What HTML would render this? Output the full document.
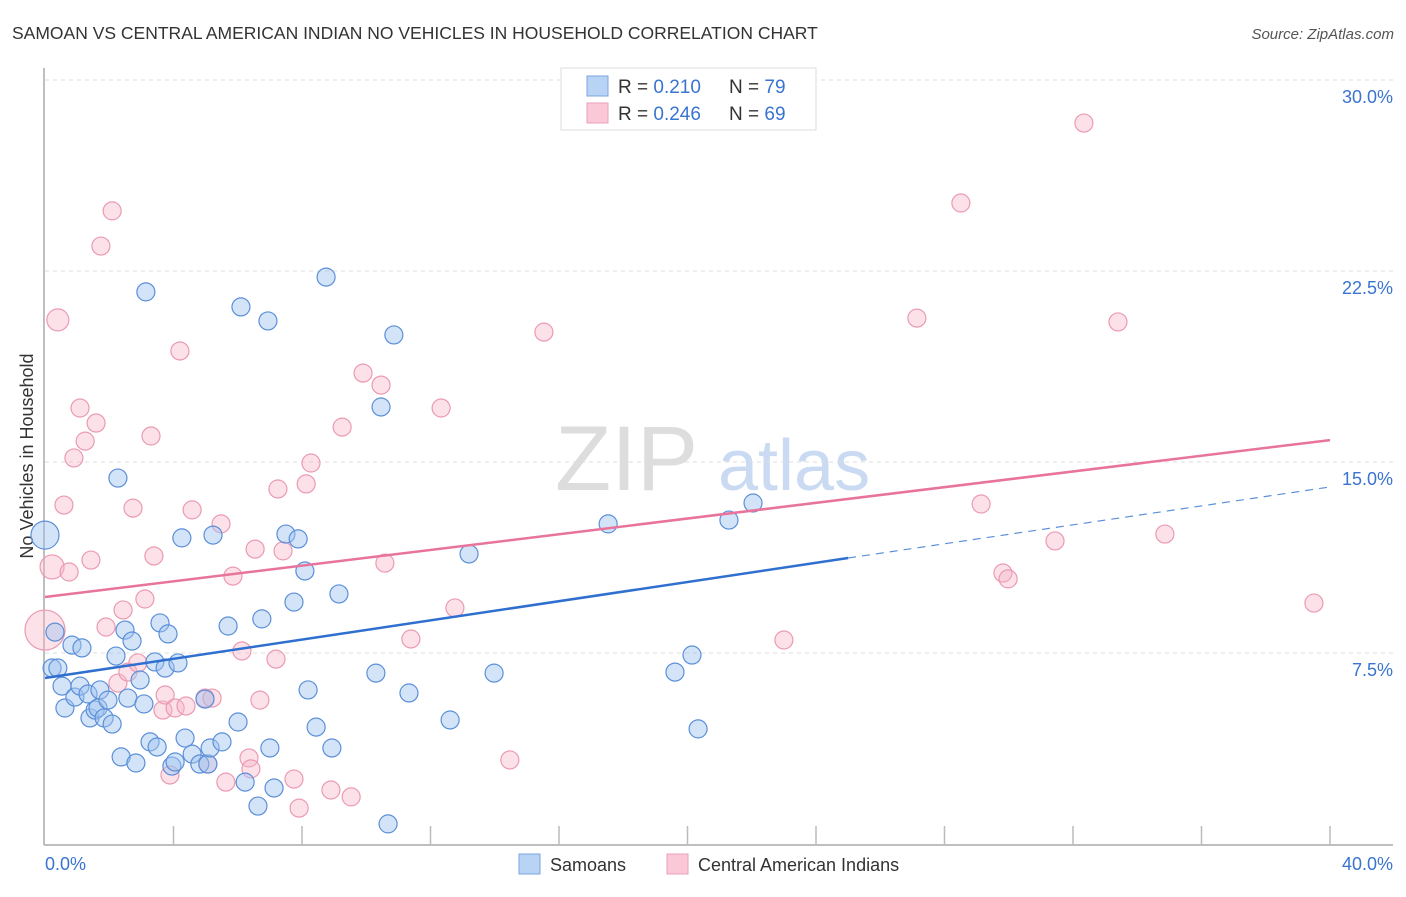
<!DOCTYPE html>
<html><head><meta charset="utf-8"><style>
body{margin:0;background:#fff;}
svg text{font-family:"Liberation Sans",sans-serif;}
</style></head><body>
<svg id="chart" width="1406" height="892" viewBox="0 0 1406 892" xmlns="http://www.w3.org/2000/svg">
<text x="12" y="39" font-size="17.5" fill="#333">SAMOAN VS CENTRAL AMERICAN INDIAN NO VEHICLES IN HOUSEHOLD CORRELATION CHART</text>
<text x="1394" y="39" font-size="15" fill="#555" font-style="italic" text-anchor="end">Source: ZipAtlas.com</text>
<text transform="translate(33,456) rotate(-90)" font-size="18" fill="#333" text-anchor="middle">No Vehicles in Household</text>
<g>
<text x="555" y="490" font-size="92" fill="#ddd" font-family="Liberation Serif,serif">ZIP</text>
<text x="718" y="490" font-size="72" fill="#c9daf2">atlas</text>
</g>
<g id="grid"></g>
<g id="axes"></g>
<g id="pts"></g>
<g id="lines"></g>
<g>
<rect x="561" y="68" width="255" height="62" fill="#fff" stroke="#ddd"/>
<rect x="587" y="76" width="21" height="20" fill="#b9d3f5" stroke="#7aa6e0"/>
<rect x="587" y="103" width="21" height="20" fill="#fac8d6" stroke="#eaa0b8"/>
<text x="618" y="93" font-size="19" fill="#333">R = <tspan fill="#3a74d0">0.210</tspan></text>
<text x="729" y="93" font-size="19" fill="#333">N = <tspan fill="#3a74d0">79</tspan></text>
<text x="618" y="120" font-size="19" fill="#333">R = <tspan fill="#3a74d0">0.246</tspan></text>
<text x="729" y="120" font-size="19" fill="#333">N = <tspan fill="#3a74d0">69</tspan></text>
</g>
<g>
<rect x="519" y="854" width="21" height="20" fill="#b9d3f5" stroke="#7aa6e0"/>
<text x="550" y="871" font-size="18" fill="#333">Samoans</text>
<rect x="667" y="854" width="21" height="20" fill="#fac8d6" stroke="#eaa0b8"/>
<text x="698" y="871" font-size="18" fill="#333">Central American Indians</text>
</g>
</svg>
<script>
const blueX=[0.0,0.31,0.22,0.40,0.53,0.62,0.84,0.93,1.09,1.15,1.34,1.40,1.56,1.65,1.71,1.84,1.96,2.09,2.21,2.27,2.37,2.49,2.58,2.71,2.83,2.96,3.08,3.14,3.27,3.42,3.49,3.58,3.74,3.83,3.95,4.05,4.14,4.26,4.36,4.58,4.82,4.98,5.07,5.14,5.23,5.51,5.70,6.01,6.10,6.23,6.63,6.75,6.94,7.00,7.13,7.50,7.75,7.88,8.09,8.19,8.44,8.75,8.93,9.15,10.30,10.46,10.68,10.86,11.33,12.61,13.20,13.98,17.53,19.61,20.14,20.33,21.29,22.04];
const blueY=[12.13,8.32,6.91,6.91,6.20,5.34,7.81,5.77,6.20,7.70,5.89,4.95,5.26,5.34,6.05,4.95,5.65,4.71,7.38,14.37,3.42,8.40,5.73,7.97,3.18,6.44,5.50,21.68,4.01,7.15,3.81,8.68,6.91,8.25,3.06,3.22,7.11,12.02,4.16,3.53,3.14,5.69,3.14,3.77,12.13,4.01,8.56,4.79,21.09,2.43,1.49,8.84,20.54,3.77,2.20,12.17,9.50,11.98,10.72,6.05,4.59,22.26,3.77,9.82,6.71,17.16,0.79,19.99,5.93,4.87,11.39,6.71,12.57,6.75,7.42,4.52,12.72,13.39];
const pinkX=[0.0,0.22,0.40,0.59,0.75,0.90,1.09,1.25,1.43,1.59,1.74,1.90,2.09,2.27,2.43,2.58,2.74,2.89,3.11,3.30,3.39,3.67,3.74,3.89,4.05,4.20,4.39,4.58,4.98,5.20,5.07,5.48,5.63,5.85,6.13,6.35,6.41,6.54,6.69,7.19,7.25,7.41,7.75,7.91,8.13,8.28,8.90,9.25,9.53,9.90,10.46,10.58,11.39,12.33,12.76,14.47,15.53,23.00,27.14,28.51,29.14,29.82,29.98,31.44,32.34,33.40,34.86,39.50];
const pinkY=[8.40,10.88,20.58,13.31,10.68,15.16,17.12,15.82,11.15,16.53,23.48,8.52,24.86,6.32,9.19,6.75,13.19,7.11,9.62,16.02,11.31,5.26,5.85,2.71,5.34,19.36,5.42,13.12,5.73,5.73,3.14,12.57,2.43,10.52,7.58,3.38,2.95,11.58,5.65,7.26,13.94,11.51,2.55,1.41,14.14,14.96,2.12,16.37,1.85,18.49,18.02,11.03,8.05,17.12,9.27,3.30,20.10,8.01,20.65,25.17,13.35,10.64,10.41,11.90,28.31,20.50,12.17,9.46];
const blueR=[14];const pinkR=[20,12,11];
const yTicks=[7.5,15,22.5,30];
const yTickLabels=["7.5%","15.0%","22.5%","30.0%"];
const blueLine=[6.52,11.23,14.02]; // at x=0, 25, 40
const pinkLine=[9.70,15.86]; // at x=0, 40
const NS="http://www.w3.org/2000/svg";
const X=v=>45+v/40*1285, Y=v=>844-v/7.5*191;
function mk(t,a,p){const e=document.createElementNS(NS,t);for(const k in a)e.setAttribute(k,a[k]);p.appendChild(e);return e;}
const grid=document.getElementById('grid'),axes=document.getElementById('axes');
yTicks.forEach((t,i)=>{
 const g=mk('line',{x1:45,x2:1393,y1:Y(t),y2:Y(t),stroke:'#ddd','stroke-dasharray':'4,4'},grid);
 
 
 const l=mk('text',{x:1393,y:Y(t)+23,'font-size':18,fill:'#3a74d0','text-anchor':'end'},axes);
 l.textContent=yTickLabels[i];
 
 
});
mk('line',{x1:44,x2:44,y1:68,y2:845,stroke:'#aaa','stroke-width':1.5},axes);
mk('line',{x1:44,x2:1393,y1:845,y2:845,stroke:'#aaa','stroke-width':1.5},axes);
for(let i=1;i<=10;i++){mk('line',{x1:X(i*4),x2:X(i*4),y1:826,y2:845,stroke:'#bbb','stroke-width':1.5},axes);}
const x0=mk('text',{x:45,y:870,'font-size':18,fill:'#3a74d0'},axes);x0.textContent='0.0%';


const x1=mk('text',{x:1393,y:870,'font-size':18,fill:'#3a74d0','text-anchor':'end'},axes);x1.textContent='40.0%';


const pts=document.getElementById('pts');
pinkX.forEach((v,i)=>{
 const c=mk('circle',{cx:X(v),cy:Y(pinkY[i]),r:pinkR[i]||9,fill:'rgba(248,180,200,0.4)',stroke:'#eb9ab3','stroke-width':1.2},pts);
 
 
});
blueX.forEach((v,i)=>{
 const c=mk('circle',{cx:X(v),cy:Y(blueY[i]),r:blueR[i]||9,fill:'rgba(160,195,240,0.45)',stroke:'#5b8fd8','stroke-width':1.2},pts);
 
 
});
const lines=document.getElementById('lines');
const p=mk('line',{x1:X(0),y1:Y(pinkLine[0]),x2:X(40),y2:Y(pinkLine[1]),stroke:'#e8739b','stroke-width':2.5},lines);


const b=mk('line',{x1:X(0),y1:Y(blueLine[0]),x2:X(25),y2:Y(blueLine[1]),stroke:'#2f6fd0','stroke-width':2.5},lines);


const bd=mk('line',{x1:X(25),y1:Y(blueLine[1]),x2:X(40),y2:Y(blueLine[2]),stroke:'#5b8fd8','stroke-width':1.2,'stroke-dasharray':'8,6'},lines);


</script>
</body></html>
